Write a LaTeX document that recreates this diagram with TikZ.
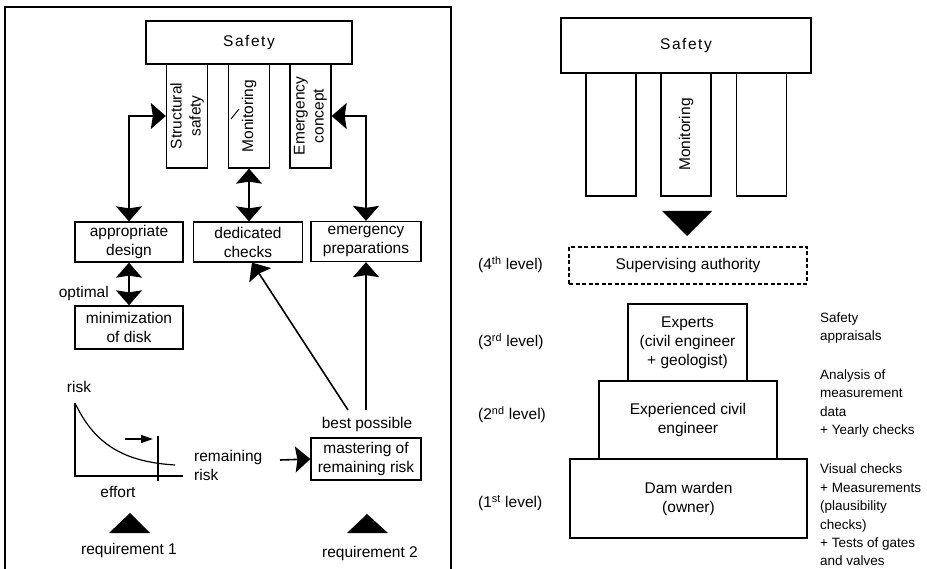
\documentclass[tikz,border=0pt]{standalone}
\usepackage{fontspec}
\setmainfont{Liberation Sans}
\usetikzlibrary{arrows.meta}
\newcommand\txt{\fontsize{15.5}{19}\selectfont}
\newcommand\desc{\fontsize{13.5}{18.4}\selectfont}
\newcommand\spaced{\addfontfeature{LetterSpace=10}}

\tikzset{
  box/.style={draw, line width=1.3pt, inner sep=0pt, align=center, font=\txt},
  pillar/.style={box, minimum width=41pt, minimum height=104pt},
  rpillar/.style={box, minimum width=50pt, minimum height=123pt},
  lbl/.style={inner sep=0pt, align=center, font=\txt},
  lvl/.style={inner sep=0pt, anchor=west, font=\txt},
  note/.style={inner sep=0pt, anchor=west, align=left, font=\desc},
  conn/.style={line width=1.6pt},
  bigtip/.tip={Stealth[inset=2pt, length=15pt, width=26pt]},
  onehead/.style={conn, -bigtip},
  twoheads/.style={conn, bigtip-bigtip},
  thin/.style={line width=1.2pt},
}

\begin{document}
\begin{tikzpicture}[x=1pt, y=-1pt]
\useasboundingbox (0,0) rectangle (927,569);

% ---------------- left panel: the three pillars of safety ----------------
\draw[line width=1.3pt] (5,600) -- (5,7) -- (451,7) -- (451,600);

\node[box, minimum width=206pt, minimum height=43pt] (safetyL) at (249,42.5) {\spaced Safety};

\node[pillar] (ss) at (187,116) {};
\node[pillar] (mon) at (249,116) {};
\node[pillar] (ec) at (310.5,116) {};
\node[lbl, rotate=90] at (ss) {Structural\\safety};
\node[lbl, rotate=90] at (mon) {Monitoring};
\node[lbl, rotate=90] at (ec) {Emergency\\concept};
\draw[line width=0.9pt] (231,119) -- (239,109);

\node[box, minimum width=108pt, minimum height=40pt] (ad) at (129,242) {appropriate\\design};
\node[box, minimum width=109pt, minimum height=40pt] (dc) at (248,242) {dedicated\\checks};
\node[box, minimum width=110pt, minimum height=40pt] (ep) at (366,241.5) {emergency\\preparations};
\node[box, minimum width=108pt, minimum height=43pt] (md) at (129,327.5) {minimization\\of disk};
\node[box, minimum width=110pt, minimum height=42pt] (ms) at (366,459) {mastering of\\remaining risk};

\draw[twoheads] (ad.north) |- (ss.west);
\draw[twoheads] (mon.south) -- (mon.south |- dc.north);
\draw[twoheads] (ep.north) |- (ec.east);
\draw[twoheads] (ad.south) -- (md.north);
\node[lbl, anchor=east] (opt) at (109,293) {optimal};

% risk / effort curve
\node[lbl] (risk) at (79,387) {risk};
\node[lbl] (effort) at (118,492) {effort};
\draw[thin] (75,403) -- (75,476) -- (183,476);
\draw[thin] (76,405) .. controls (96,446) and (126,462) .. (175,465);
\draw[thin] (158,436) -- (158,481);
\draw[thin, -{Triangle[length=12pt, width=8pt]}] (125,439) -- (153,439);
\node[lbl, anchor=west] (remain) at (194,457) {remaining};
\node[lbl, anchor=west] (rrisk) at (194,475) {risk};

\coordinate (rfrom) at (280,460);
\draw[onehead] (rfrom) -- (ms.west);

\node[lbl] (best) at (367,424) {best possible};
\coordinate (bp1) at (348,410);
\coordinate (bp2) at (366,410);
\draw[onehead] (bp1) -- ([xshift=4pt]dc.south);
\draw[onehead] (bp2) -- (ep.south);

\fill (109,533) -- (130,513) -- (150,533) -- cycle;
\fill (347,533) -- (367,514) -- (388,533) -- cycle;
\node[lbl] (req1) at (129,550) {requirement 1};
\node[lbl] (req2) at (370,553) {requirement 2};

% ---------------- right panel: levels of dam surveillance ----------------
\node[box, minimum width=250pt, minimum height=55pt] (safetyR) at (686,45.5) {\spaced Safety};
\node[rpillar] (p1) at (611,134.5) {};
\node[rpillar] (p2) at (686,134.5) {};
\node[rpillar] (p3) at (761.5,134.5) {};
\node[lbl, rotate=90] at (p2) {Monitoring};

\fill (662,211) -- (712,211) -- (687,236) -- cycle;

\node[box, dash pattern=on 4pt off 2.5pt, minimum width=238pt, minimum height=37pt] (sup) at (688,265.5) {Supervising authority};
\node[box, minimum width=119pt, minimum height=77pt] (exp) at (687.5,342.5) {Experts\\(civil engineer\\+ geologist)};
\node[box, minimum width=178pt, minimum height=78pt] (civ) at (688,420) {Experienced civil\\engineer};
\node[box, minimum width=237pt, minimum height=79pt] (dam) at (688.5,498.5) {Dam warden\\(owner)};

\node[lvl] (l4) at (478,265) {(4\textsuperscript{th} level)};
\node[lvl] (l3) at (478,342) {(3\textsuperscript{rd} level)};
\node[lvl] (l2) at (478,415) {(2\textsuperscript{nd} level)};
\node[lvl] (l1) at (478,503) {(1\textsuperscript{st} level)};

\node[note] (n3) at (820,328) {Safety\\appraisals};
\node[note] (n2) at (820,403.5) {Analysis of\\measurement\\data\\+ Yearly checks};
\node[note] (n1) at (820,515) {Visual checks\\+ Measurements\\(plausibility\\checks)\\+ Tests of gates\\and valves};
\end{tikzpicture}
\end{document}
